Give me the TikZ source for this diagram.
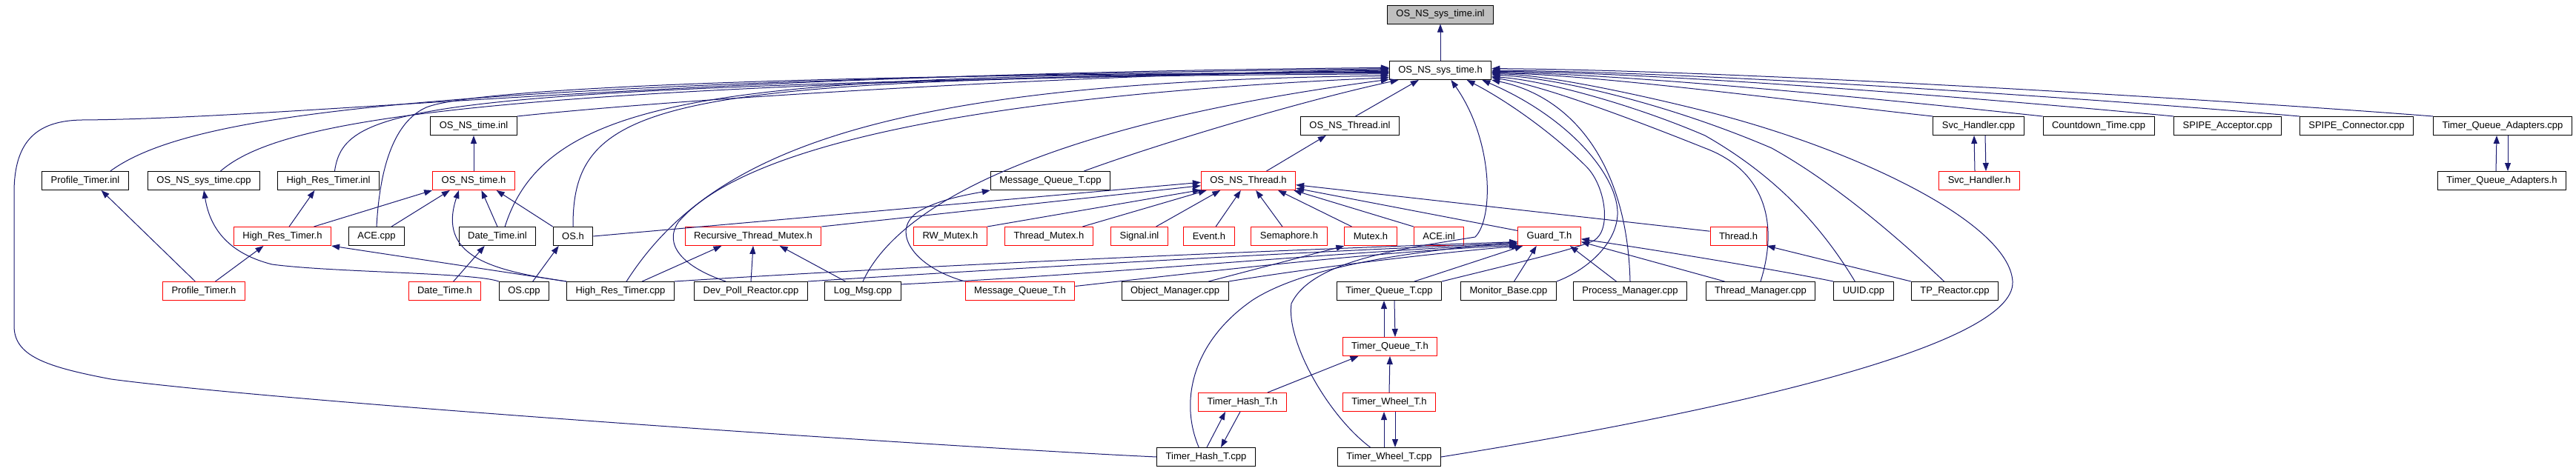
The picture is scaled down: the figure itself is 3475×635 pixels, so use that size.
\documentclass[tikz,border=0pt]{standalone}
\usepackage{fontspec}
\setmainfont{Liberation Sans}
\usetikzlibrary{arrows.meta}
\definecolor{edgeblue}{RGB}{25,25,112}
\definecolor{rootgrey}{RGB}{191,191,191}
\tikzset{
  file/.style = {draw=black, line width=1pt, minimum height=25pt,
                 inner xsep=12pt, inner ysep=0pt,
                 font=\fontsize{13}{15}\selectfont},
  partial/.style = {file, draw=red},
  root/.style = {file, fill=rootgrey},
  dep/.style = {draw=edgeblue, line width=1pt,
                arrows={-Triangle[length=11pt, width=8pt]}},
}

\begin{document}
\begin{tikzpicture}[x=1pt, y=-1pt]
  \useasboundingbox (0,0) rectangle (3475,635);

  % The file itself and its first includer
  \node (sysinl) [root] at (1943,19.5) {OS\_NS\_sys\_time.inl};
  \node (sysh) [file] at (1943,95) {OS\_NS\_sys\_time.h};

  % Complete files
  \foreach \name/\x/\y/\txt in {
      timeinl/639/170/OS\_NS\_time.inl, threadinl/1821/170/OS\_NS\_Thread.inl,
      svccpp/2669/170/Svc\_Handler.cpp, countdown/2831/170/Countdown\_Time.cpp,
      spipeacc/3005/170/SPIPE\_Acceptor.cpp, spipecon/3179/170/SPIPE\_Connector.cpp,
      tqacpp/3376/170/Timer\_Queue\_Adapters.cpp,
      ptinl/115/244/Profile\_Timer.inl, syscpp/275/244/OS\_NS\_sys\_time.cpp,
      hrtinl/443/244/High\_Res\_Timer.inl, mqtcpp/1417/244/Message\_Queue\_T.cpp,
      tqah/3375/244/Timer\_Queue\_Adapters.h,
      acecpp/508/319/ACE.cpp, dtinl/671/319/Date\_Time.inl, osh/773/319/OS.h,
      oscpp/707/393/OS.cpp, hrtcpp/837/393/High\_Res\_Timer.cpp,
      dprcpp/1013/393/Dev\_Poll\_Reactor.cpp, logcpp/1164/393/Log\_Msg.cpp,
      omcpp/1585/393/Object\_Manager.cpp, tqtcpp/1874/393/Timer\_Queue\_T.cpp,
      mbcpp/2035/393/Monitor\_Base.cpp, pmcpp/2199/393/Process\_Manager.cpp,
      tmcpp/2375/393/Thread\_Manager.cpp, uuidcpp/2514/393/UUID.cpp,
      tprcpp/2637/393/TP\_Reactor.cpp,
      thtcpp/1627/617/Timer\_Hash\_T.cpp, twtcpp/1874/617/Timer\_Wheel\_T.cpp}
    \node (\name) [file] at (\x,\y) {\txt};

  % Files whose graph is cut off
  \foreach \name/\x/\y/\txt in {
      timeh/639/244/OS\_NS\_time.h, threadh/1684/244/OS\_NS\_Thread.h,
      svch/2670/244/Svc\_Handler.h,
      hrth/381/319/High\_Res\_Timer.h, rtmh/1016/319/Recursive\_Thread\_Mutex.h,
      rwmh/1282/319/RW\_Mutex.h, tmh/1415/319/Thread\_Mutex.h,
      siginl/1537/319/Signal.inl, eventh/1631/319/Event.h,
      semh/1739/319/Semaphore.h, mutexh/1849/319/Mutex.h,
      aceinl/1941/319/ACE.inl, guardh/2090/319/Guard\_T.h, thrh/2345/319/Thread.h,
      pth/275/393/Profile\_Timer.h, dth/600/393/Date\_Time.h,
      mqth/1376/393/Message\_Queue\_T.h, tqth/1875/468/Timer\_Queue\_T.h,
      thth/1676/543/Timer\_Hash\_T.h, twth/1874/543/Timer\_Wheel\_T.h}
    \node (\name) [partial] at (\x,\y) {\txt};

  % Straight includes
  \foreach \src/\dst in {
      sysh.north/sysinl.south, timeh.north/timeinl.south,
      threadh.28/threadinl.202, threadinl.60/sysh.204,
      hrth.55/hrtinl.215, pth.132/ptinl.329, pth.40/hrth.207,
      hrtcpp.north west/hrth.south east, hrth.17/timeh.south west,
      acecpp.33/timeh.202, dtinl.north/timeh.309, osh.north west/timeh.337,
      oscpp.48/osh.214, dth.48/dtinl.217,
      hrtcpp.24/rtmh.197, dprcpp.north/rtmh.south, logcpp.151/rtmh.340,
      osh.east/threadh.182, rtmh.north east/threadh.186,
      rwmh.north east/threadh.191, tmh.16/threadh.193, siginl.30/threadh.199,
      eventh.55/threadh.232, semh.125/threadh.308, mutexh.153/threadh.342,
      aceinl.north west/threadh.348, guardh.170/threadh.351, thrh.170/threadh.355,
      tprcpp.north west/thrh.south east, omcpp.16/mutexh.south west,
      tqtcpp.21/guardh.200, mbcpp.60/guardh.217, pmcpp.145/guardh.335,
      tmcpp.165/guardh.350, thth.21/tqth.197, twth.north/tqth.south}
    \draw [dep] (\src) -- (\dst);

  % Files that include each other
  \draw [dep] ([xshift=-6pt]svch.north) -- ([xshift=-6pt]svccpp.south);
  \draw [dep] ([xshift=9pt]svccpp.south) -- ([xshift=9pt]svch.north);
  \draw [dep] ([xshift=-8pt]tqah.north) -- ([xshift=-8pt]tqacpp.south);
  \draw [dep] ([xshift=7pt]tqacpp.south) -- ([xshift=8pt]tqah.north);
  \draw [dep] ([xshift=-8pt]tqth.north) -- ([xshift=-7pt]tqtcpp.south);
  \draw [dep] ([xshift=7pt]tqtcpp.south) -- ([xshift=7pt]tqth.north);
  \draw [dep] ([xshift=-7pt]twtcpp.north) -- ([xshift=-7pt]twth.south);
  \draw [dep] ([xshift=8pt]twth.south) -- ([xshift=8pt]twtcpp.north);
  \draw [dep] ([xshift=1pt]thtcpp.north) -- ([xshift=-23pt]thth.south);
  \draw [dep] ([xshift=-3pt]thth.south) -- ([xshift=20pt]thtcpp.north);

  % Into OS_NS_sys_time.h from the left
  \draw [dep] (timeinl.north east) .. controls (950,130) and (1500,100) .. (sysh.179);
  \draw [dep] (ptinl.21) .. controls (260,150) and (600,110) .. (sysh.178);
  \draw [dep] (syscpp.30) .. controls (380,160) and (650,115) .. (sysh.180);
  \draw [dep] (hrtinl.57) .. controls (465,140) and (560,118) .. (sysh.181);
  \draw [dep] (acecpp.north) .. controls (512,230) and (530,165) .. (575,145)
    .. controls (650,115) and (1200,100) .. (sysh.182);
  \draw [dep] (dtinl.52) .. controls (740,120) and (1000,100) .. (sysh.183);
  \draw [dep] (osh.north) .. controls (772,130) and (900,105) .. (sysh.184);
  \draw [dep] (hrtcpp.58) .. controls (960,200) and (1200,110) .. (sysh.186);
  \draw [dep] (dprcpp.159) .. controls (920,360) and (895,330) .. (915,300)
    .. controls (1000,200) and (1300,130) .. (sysh.188);
  \draw [dep] (logcpp.north) .. controls (1210,280) and (1400,170) .. (sysh.190);
  \draw [dep] (mqtcpp.16) .. controls (1560,195) and (1760,135) .. (sysh.193);
  \draw [dep] (thtcpp.west) .. controls (1300,605) and (400,545) .. (150,512)
    .. controls (60,495) and (19,480) .. (19,440) -- (19,260)
    .. controls (19,190) and (50,163) .. (110,162)
    .. controls (400,160) and (900,100) .. (sysh.177);

  % Into OS_NS_sys_time.h from below and from the right
  \draw [dep] (twtcpp.153) .. controls (1790,560) and (1735,460) .. (1742,410)
    .. controls (1770,350) and (1900,335) .. (1990,320)
    .. controls (2015,295) and (2015,190) .. (sysh.318);
  \draw [dep] (tqtcpp.north east) .. controls (2050,354) and (2120,338) .. (2150,325)
    .. controls (2175,310) and (2165,250) .. (2140,225)
    .. controls (2100,185) and (2040,140) .. (sysh.340);
  \draw [dep] (mbcpp.north east) .. controls (2140,365) and (2180,330) .. (2182,290)
    .. controls (2184,240) and (2120,160) .. (sysh.347);
  \draw [dep] (pmcpp.north) .. controls (2195,220) and (2120,130) .. (sysh.south east);
  \draw [dep] (tmcpp.north) .. controls (2400,300) and (2380,230) .. (2300,200)
    .. controls (2200,160) and (2080,115) .. (sysh.352);
  \draw [dep] (uuidcpp.132) .. controls (2460,310) and (2400,240) .. (2300,183)
    .. controls (2200,140) and (2080,108) .. (sysh.353);
  \draw [dep] (tprcpp.138) .. controls (2570,330) and (2480,250) .. (2390,200)
    .. controls (2250,140) and (2100,105) .. (sysh.355);
  \draw [dep] (twtcpp.east) .. controls (2300,560) and (2720,470) .. (2715,380)
    .. controls (2710,300) and (2500,200) .. (2300,150)
    .. controls (2200,125) and (2080,100) .. (sysh.356);
  \draw [dep] (svccpp.north west) .. controls (2450,140) and (2150,100) .. (sysh.357);
  \draw [dep] (countdown.north west) .. controls (2550,135) and (2200,100) .. (sysh.358);
  \draw [dep] (spipeacc.north west) .. controls (2700,135) and (2250,98) .. (sysh.359);
  \draw [dep] (spipecon.north west) .. controls (2850,135) and (2300,97) .. (sysh.east);
  \draw [dep] (tqacpp.north west) .. controls (3000,135) and (2350,95) .. (sysh.2);

  % Into Guard_T.h
  \draw [dep] (hrtcpp.north east) .. controls (1300,355) and (1800,335) .. (guardh.190);
  \draw [dep] (dprcpp.north east) .. controls (1400,360) and (1800,338) .. (guardh.192);
  \draw [dep] (logcpp.10) .. controls (1500,370) and (1800,340) .. (guardh.194);
  \draw [dep] (mqth.5) .. controls (1600,370) and (1850,340) .. (guardh.196);
  \draw [dep] (omcpp.north east) .. controls (1750,365) and (1900,345) .. (guardh.198);
  \draw [dep] (thtcpp.127) .. controls (1590,540) and (1610,460) .. (1690,405)
    .. controls (1760,360) and (1900,340) .. (guardh.190);
  \draw [dep] (uuidcpp.north west) .. controls (2400,365) and (2250,340) .. (guardh.355);

  % The rest of the curves
  \draw [dep] (mqth.north west) .. controls (1230,360) and (1200,310) .. (1240,285)
    .. controls (1270,268) and (1310,262) .. (mqtcpp.south west);
  \draw [dep] (hrtcpp.north west) .. controls (660,365) and (590,345) .. (timeh.213);
  \draw [dep] (oscpp.north west) .. controls (640,368) and (450,368) .. (367,357)
    .. controls (300,340) and (282,300) .. (syscpp.south);
\end{tikzpicture}
\end{document}
